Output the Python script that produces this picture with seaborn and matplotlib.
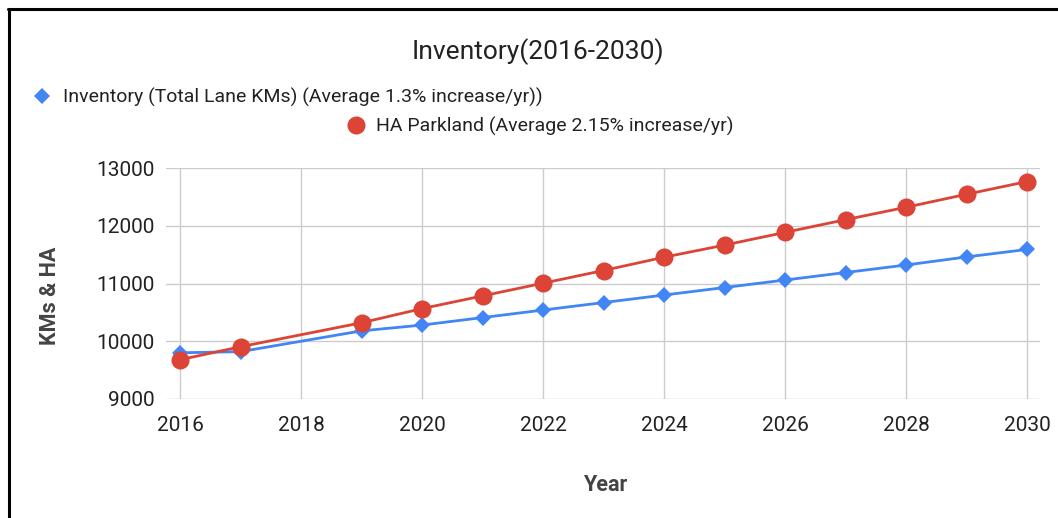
import matplotlib
matplotlib.use("Agg")
import matplotlib.pyplot as plt
from matplotlib.lines import Line2D
import seaborn as sns
import pandas as pd

years = [2016, 2017, 2019, 2020, 2021, 2022, 2023, 2024, 2025, 2026, 2027, 2028, 2029, 2030]
inventory_kms = [9800, 9820, 10180, 10280, 10410, 10540, 10670, 10800, 10930, 11060, 11190, 11320, 11460, 11590]
ha_parkland = [9680, 9905, 10320, 10565, 10785, 11005, 11225, 11455, 11665, 11885, 12105, 12320, 12545, 12765]
series_names = ["Inventory (Total Lane KMs) (Average 1.3% increase/yr))",
                "HA Parkland (Average 2.15% increase/yr)"]
title_text = "Inventory(2016-2030)"
x_ticks = [2016, 2018, 2020, 2022, 2024, 2026, 2028, 2030]
y_ticks = [9000, 10000, 11000, 12000, 13000]

sns.set_theme(style="white")
plt.rcParams['font.family'] = ['Roboto', 'DejaVu Sans']

BLUE = "#4285F4"
RED = "#DB4437"

fig = plt.figure(figsize=(10.58, 5.18), dpi=100)
ax = fig.add_axes([166/1058, 1-399/518, (1040-166)/1058, (399-168)/518])

df1 = pd.DataFrame({"Year": years, "Value": inventory_kms})
df2 = pd.DataFrame({"Year": years, "Value": ha_parkland})

sns.lineplot(data=df1, x="Year", y="Value", ax=ax, color=BLUE, lw=2,
             marker="D", markersize=8, markeredgewidth=0, legend=False)
sns.lineplot(data=df2, x="Year", y="Value", ax=ax, color=RED, lw=2,
             marker="o", markersize=13, markeredgewidth=0, legend=False)

ax.set_xlim(2016 - 14/60.5, 2030 + 13/60.5)
ax.set_ylim(9000, 13000)
ax.set_xticks(x_ticks)
ax.set_yticks(y_ticks)
ax.set_xticklabels([str(t) for t in x_ticks])
ax.set_yticklabels([str(t) for t in y_ticks])
ax.grid(True, color="#cccccc", lw=1)
ax.set_axisbelow(True)
for s in ax.spines.values():
    s.set_visible(False)
ax.tick_params(axis="both", length=0, labelsize=15, colors="#222222")
ax.tick_params(axis="y", pad=8)
ax.tick_params(axis="x", pad=12)

ax.set_xlabel("Year", fontsize=15.5, fontweight="bold", color="#444444")
ax.set_ylabel("KMs & HA", fontsize=15.5, fontweight="bold", color="#444444")
ax.xaxis.set_label_coords((605-166)/874, (399-474)/231)
ax.yaxis.set_label_coords((61-166)/874, (399-296)/231)

fig.text(0.508, 1-52/518, title_text, ha="center", va="center", fontsize=19, color="#222222")

fs = 14
fspx = fs * 100/72
h_blue = Line2D([], [], color=BLUE, marker="D", markersize=8, markeredgewidth=0, linestyle="None")
h_red = Line2D([], [], color=RED, marker="o", markersize=13, markeredgewidth=0, linestyle="None")
leg1 = ax.legend(handles=[h_blue], labels=[series_names[0]], loc="center left",
                 bbox_to_anchor=((42 - 0.5*fspx)/1058, 1-97/518), bbox_transform=fig.transFigure,
                 frameon=False, fontsize=fs, handlelength=1, handletextpad=(63-42-0.5*fspx)/fspx,
                 borderpad=0, borderaxespad=0, labelcolor="#222222")
ax.add_artist(leg1)
leg2 = ax.legend(handles=[h_red], labels=[series_names[1]], loc="center left",
                 bbox_to_anchor=((356 - 0.5*fspx)/1058, 1-126/518), bbox_transform=fig.transFigure,
                 frameon=False, fontsize=fs, handlelength=1, handletextpad=(376-356-0.5*fspx)/fspx,
                 borderpad=0, borderaxespad=0, labelcolor="#222222")

# outer frame (top and left edges)
fig.add_artist(Line2D([8/1058, 1], [1-8.5/518, 1-8.5/518], transform=fig.transFigure, color="black", lw=2.2))
fig.add_artist(Line2D([8.5/1058, 8.5/1058], [0, 1-8.5/518], transform=fig.transFigure, color="black", lw=2.2))

fig.savefig("out.png", dpi=100)
